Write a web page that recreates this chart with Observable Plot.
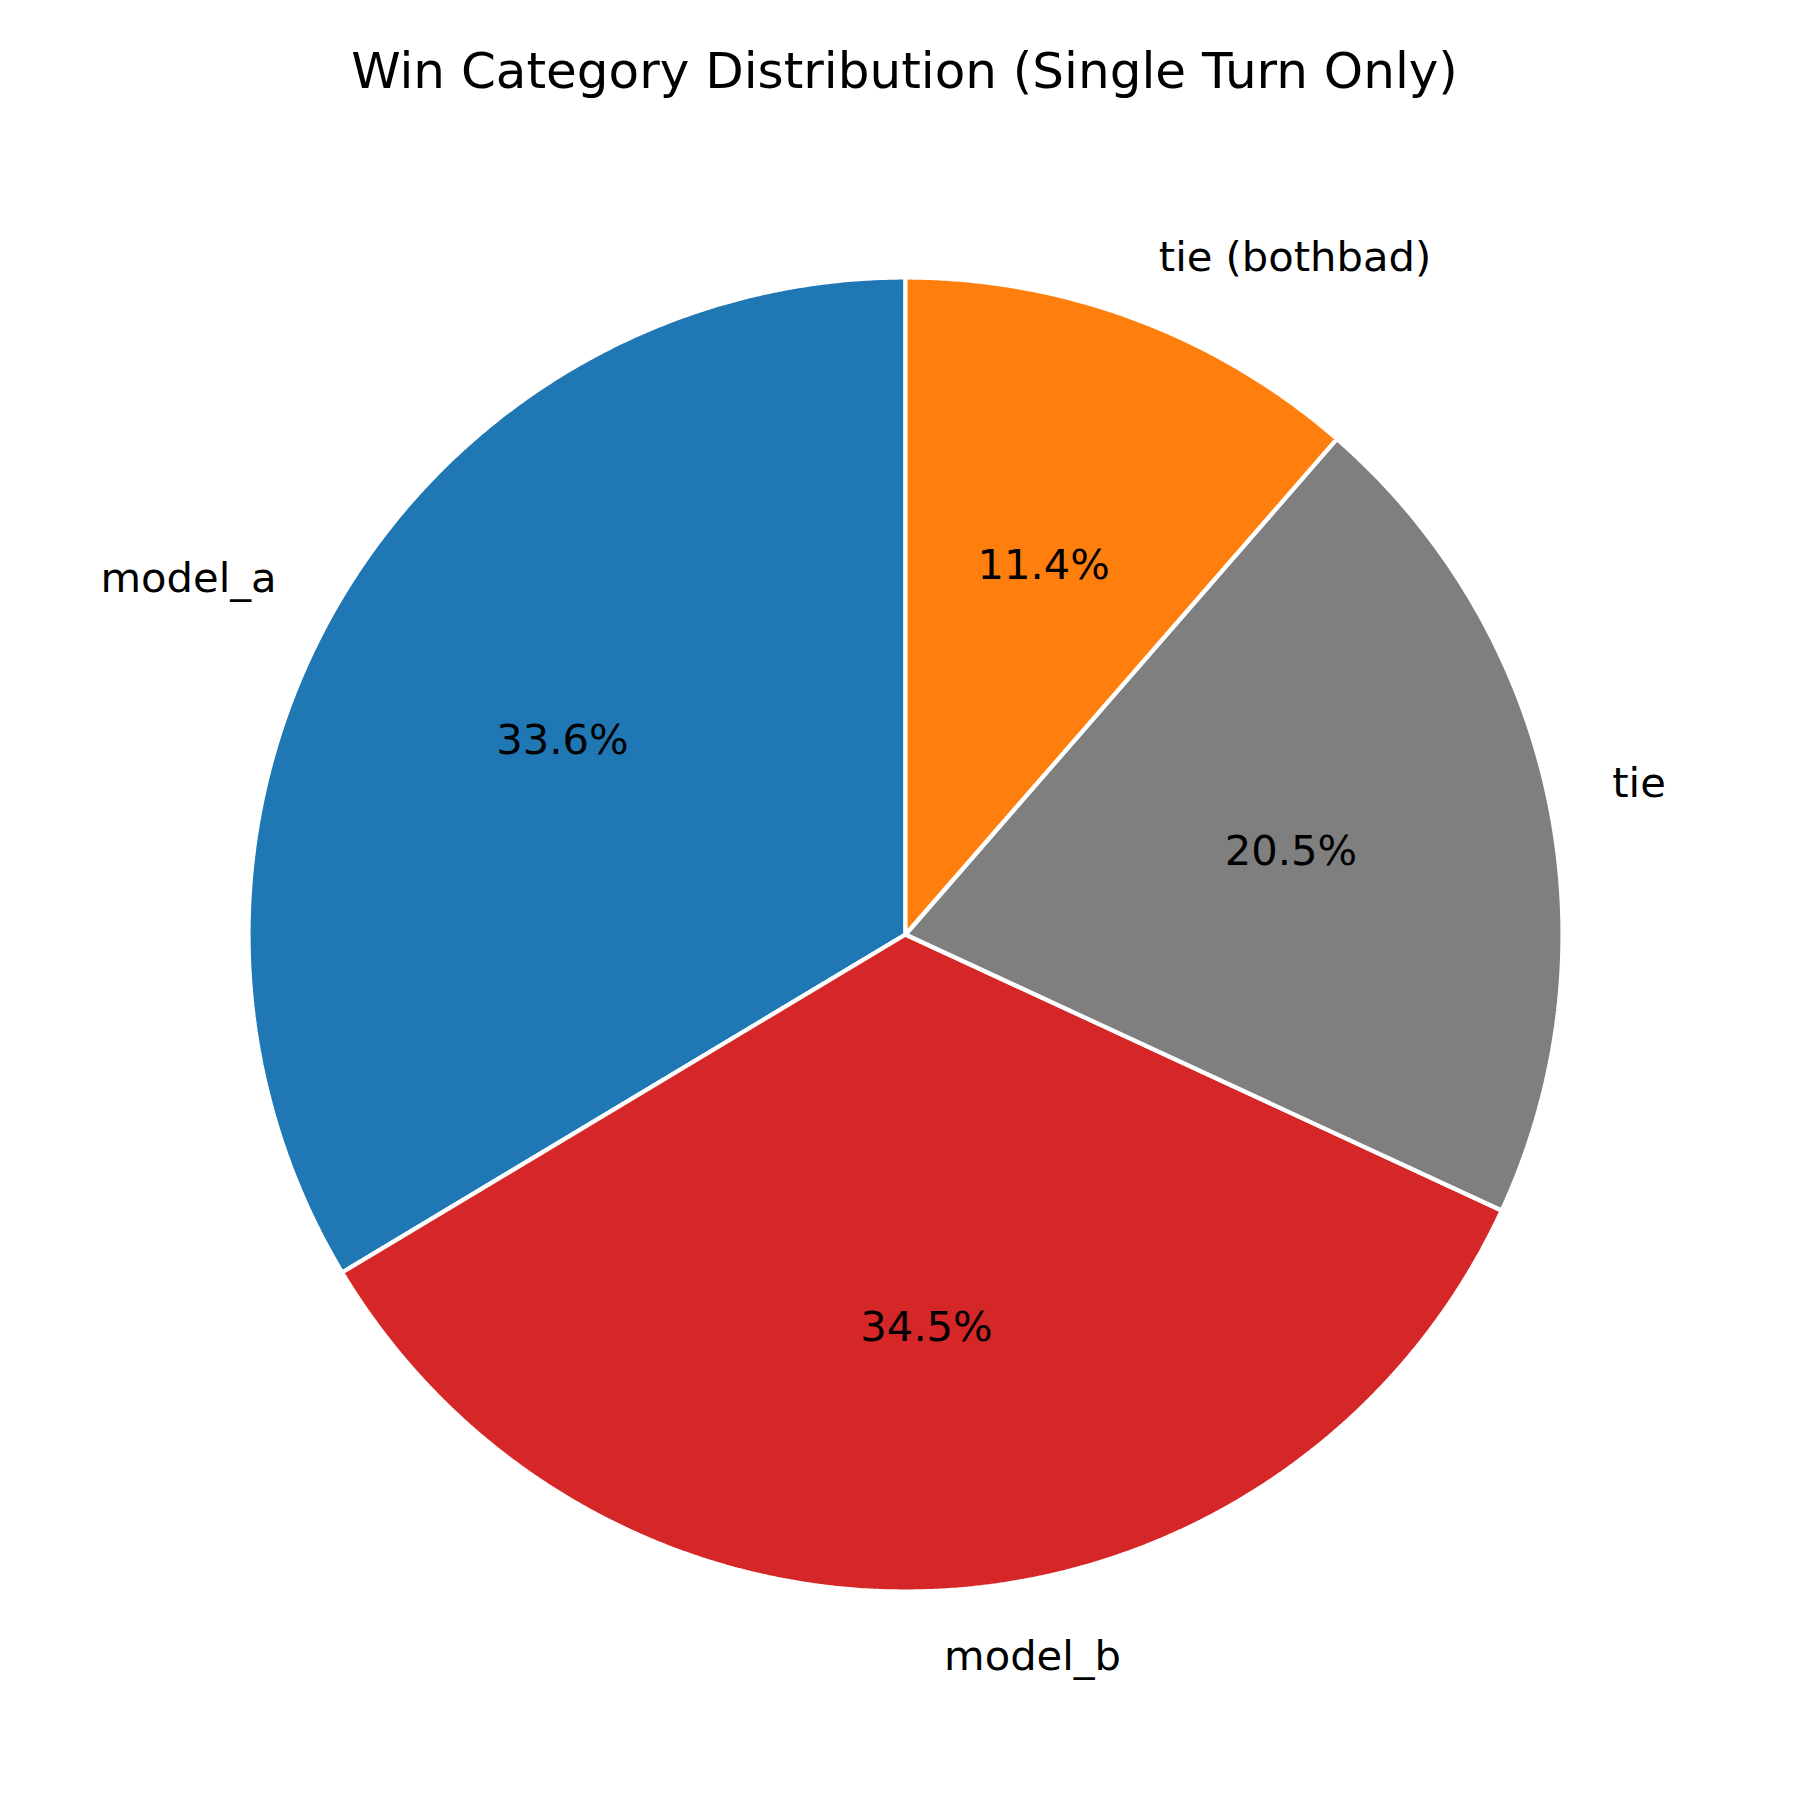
<!DOCTYPE html>
<html>
<head>
<meta charset="utf-8">
<script src="https://cdn.jsdelivr.net/npm/d3@7"></script>
<script src="https://cdn.jsdelivr.net/npm/@observablehq/plot@0.6"></script>
<style>
  html, body { margin: 0; padding: 0; background: #fff; }
  #chart svg { display: block; }
</style>
</head>
<body>
<div id="chart"></div>
<script>
const categories = ["model_a", "model_b", "tie", "tie (bothbad)"];
const shares = [33.6, 34.5, 20.5, 11.4];
const colors = ["#1f77b4", "#d62728", "#7f7f7f", "#ff7f0e"];
const titleText = "Win Category Distribution (Single Turn Only)";

// slice geometry (startangle 90°, counterclockwise, like matplotlib)
const total = d3.sum(shares);
let start = 90;
const slices = categories.map((name, i) => {
  const sweep = shares[i] / total * 360;
  const s = { name, value: shares[i], a0: start, a1: start + sweep, mid: start + sweep / 2 };
  start += sweep;
  return s;
});
const rad = (deg) => deg * Math.PI / 180;

const outline = [];
for (const s of slices) {
  outline.push({ name: s.name, x: 0, y: 0 });
  const n = Math.max(2, Math.ceil((s.a1 - s.a0) / 0.25));
  for (let k = 0; k <= n; k++) {
    const a = rad(s.a0 + (s.a1 - s.a0) * k / n);
    outline.push({ name: s.name, x: Math.cos(a), y: Math.sin(a) });
  }
  outline.push({ name: s.name, x: 0, y: 0 });
}

const labels = slices.map(s => ({
  name: s.name,
  x: 1.1 * Math.cos(rad(s.mid)),
  y: 1.1 * Math.sin(rad(s.mid)),
  px: 0.6 * Math.cos(rad(s.mid)),
  py: 0.6 * Math.sin(rad(s.mid)),
  pct: s.value.toFixed(1) + "%"
}));

const W = 1800, H = 1800, R = 657, CX = 905, CY = 934;
const font = "DejaVu Sans";

const chart = Plot.plot({
  width: W,
  height: H,
  margin: 0,
  style: { fontFamily: font, background: "#fff" },
  x: { domain: [-CX / R, (W - CX) / R], axis: null },
  y: { domain: [-(H - CY) / R, CY / R], axis: null },
  color: { domain: categories, range: colors },
  marks: [
    Plot.line(outline, {
      x: "x", y: "y", z: "name", fill: "name",
      stroke: "white", strokeWidth: 4.2, strokeLinejoin: "miter"
    }),
    Plot.text(labels.filter(d => d.x >= 0), {
      x: "x", y: "y", text: "name", textAnchor: "start",
      fontSize: 41.67, fill: "black", lineAnchor: "middle"
    }),
    Plot.text(labels.filter(d => d.x < 0), {
      x: "x", y: "y", text: "name", textAnchor: "end",
      fontSize: 41.67, fill: "black", lineAnchor: "middle"
    }),
    Plot.text(labels, {
      x: "px", y: "py", text: "pct", textAnchor: "middle",
      fontSize: 41.67, fill: "black", lineAnchor: "middle"
    }),
    Plot.text([titleText], {
      frameAnchor: "top", dy: 71, dx: 4, text: d => d,
      fontSize: 50, fill: "black", lineAnchor: "middle"
    })
  ]
});
document.getElementById("chart").appendChild(chart);
</script>
</body>
</html>
